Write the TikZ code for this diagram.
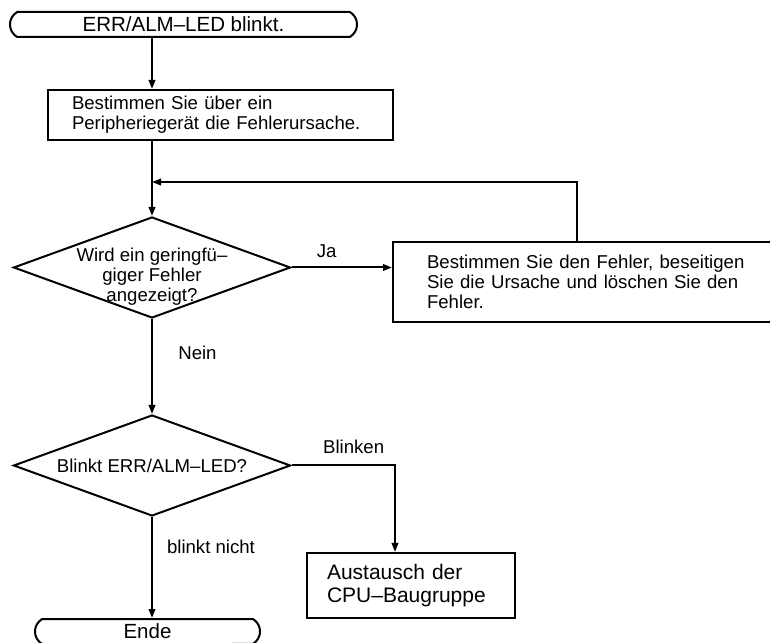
\documentclass[tikz,border=0pt]{standalone}
\usepackage{fontspec}
\setmainfont{Liberation Sans}
\usetikzlibrary{shapes.misc, shapes.geometric, arrows.meta, positioning}

\begin{document}
\begin{tikzpicture}[x=1pt, y=1pt,
		term/.style = {rounded rectangle, rounded rectangle arc length=120, draw, line width=2pt, inner sep=0pt, font=\fontsize{20.5}{23}\selectfont},
		proc/.style = {rectangle, draw, line width=2pt, align=left, font=\fontsize{18.6}{20}\selectfont},
		dec/.style = {diamond, draw, line width=2pt, minimum width=277pt, minimum height=101pt, inner sep=0pt},
		txt/.style = {align=center, inner sep=0pt, font=\fontsize{18.6}{20}\selectfont},
		lbl/.style = {font=\fontsize{18.6}{20}\selectfont},
		arr/.style = {-{Triangle[length=9pt, width=6.5pt]}, line width=2pt}
		]
		\useasboundingbox (0, 0) rectangle (770, 642);
		
		%Nodes
		\node[term, minimum width=347pt, minimum height=25pt]	(start)	at	(183.5, 617.5)	{ERR/ALM–LED blinkt.};
		\node[proc, minimum width=345pt, minimum height=50pt, inner xsep=24pt, text width=297pt]	(b1)	at	(220.5, 527)	{Bestimmen Sie über ein\\Peripheriegerät die Fehlerursache.};
		\coordinate	(j)	at	(152, 460);
		\node[dec]	(d1)	at	(152, 374.5)	{};
		\node[txt]	(d1t)	at	(152, 365)	{Wird ein geringfü–\\giger Fehler\\angezeigt?};
		\node[proc, minimum width=400pt, minimum height=80pt, inner xsep=34pt, text width=332pt]	(b2)	at	(593, 360)	{Bestimmen Sie den Fehler, beseitigen\\Sie die Ursache und löschen Sie den\\Fehler.};
		\node[dec]	(d2)	at	(152, 176.5)	{};
		\node[txt]	(d2t)	at	(d2.center)	{Blinkt ERR/ALM–LED?};
		\node[proc, minimum width=208pt, minimum height=65pt, inner xsep=20pt, text width=168pt, font=\fontsize{21}{23.3}\selectfont]	(b3)	at	(411, 56.5)	{Austausch der\\CPU–Baugruppe};
		\node[term, minimum width=225pt, minimum height=25pt]	(ende)	at	(147.5, 10.5)	{Ende};
		
		%Lines
		\draw[arr]	(start.south -| d1.north)	--	(b1.north -| d1.north);
		\draw[arr]	(b1.south -| d1.north)	--	(d1.north);
		\draw[arr]	([xshift=-16pt]b2.north)	|-	(j);
		\draw[arr]	(d1.east)	--	node[lbl, above=5pt, pos=0.35]	(ja)	{Ja}	(d1.east -| b2.west);
		\draw[arr]	(d1.south)	--	node[lbl, right=22pt, pos=0.355]	(nein)	{Nein}	(d2.north);
		\draw[arr]	(d2.east)	-|	node[lbl, above=7pt, pos=0.3]	(blk)	{Blinken}	([xshift=-16pt]b3.north);
		\draw[arr]	(d2.south)	--	node[lbl, right=10.7pt, pos=0.3]	(bn)	{blinkt nicht}	(d2.south |- ende.north);
	\end{tikzpicture}
\end{document}
